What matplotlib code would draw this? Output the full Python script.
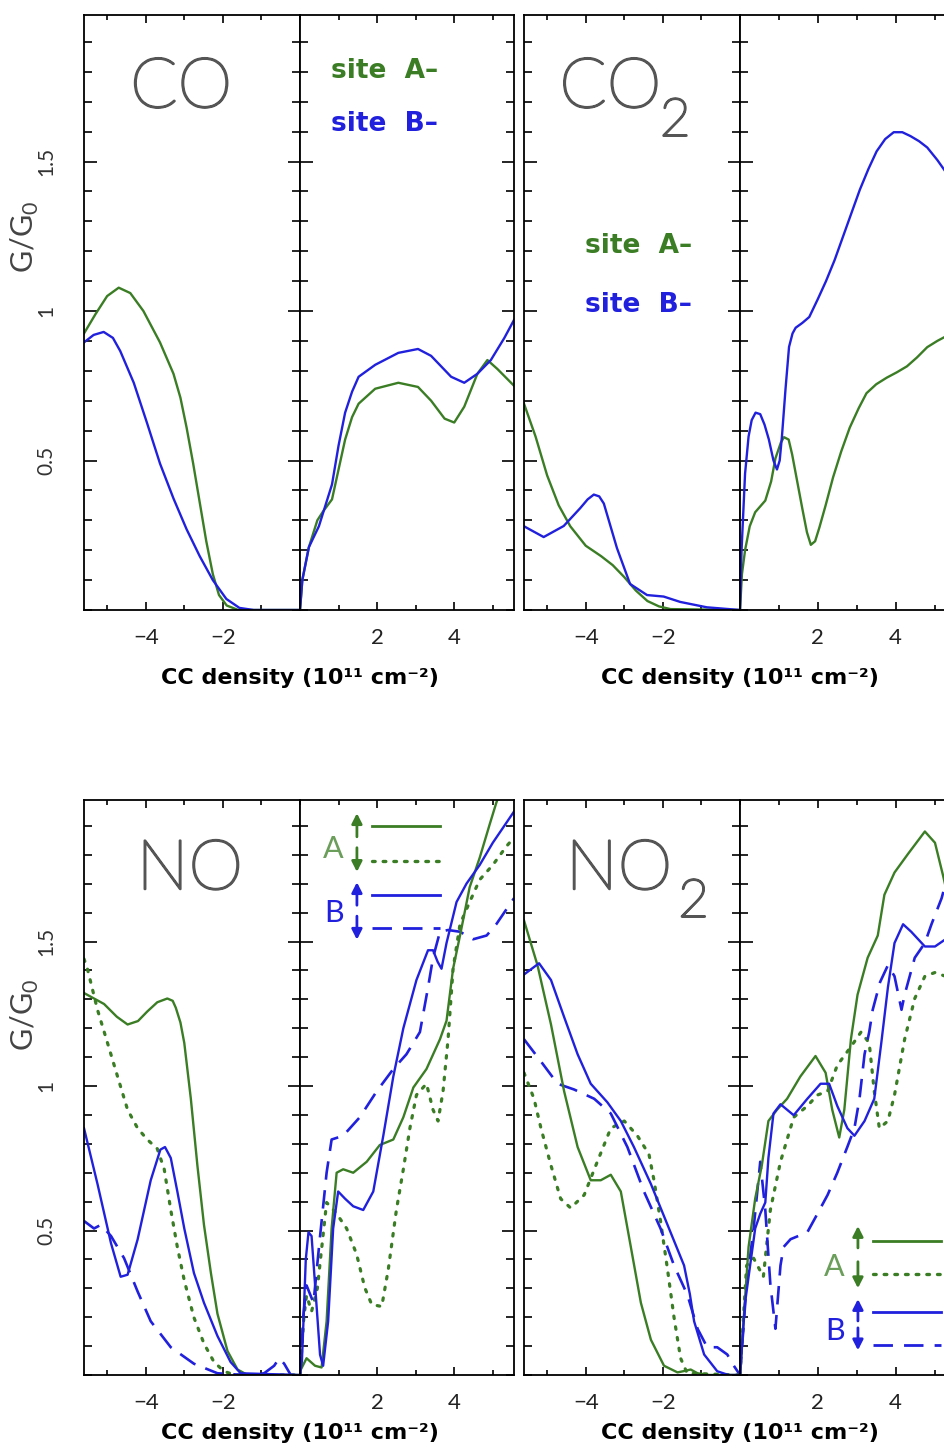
import numpy as np
import matplotlib.pyplot as plt
import matplotlib.patheffects as pe
from matplotlib.ticker import MultipleLocator

GREEN = '#3a7d24'
BLUE = '#2020dd'
GRAY = '#555555'
THIN = ['Lato', 'DejaVu Sans']
plt.rcParams['mathtext.fontset'] = 'custom'
plt.rcParams['mathtext.rm'] = 'Lato'

# ---------------- data ----------------
# CO, negative density side
co_neg_x_A = [-5.6, -5.3, -5.0, -4.7, -4.4, -4.06, -3.63, -3.28, -3.1, -2.94, -2.77, -2.6, -2.43, -2.26, -2.1, -1.9, -1.6, 0]
co_neg_y_A = [0.925, 0.99, 1.05, 1.078, 1.06, 1.0, 0.895, 0.79, 0.71, 0.61, 0.49, 0.36, 0.23, 0.12, 0.05, 0.015, 0.0, 0.0]
co_neg_x_B = [-5.6, -5.35, -5.09, -4.85, -4.66, -4.31, -3.97, -3.63, -3.28, -2.94, -2.6, -2.26, -1.91, -1.57, -1.2, 0]
co_neg_y_B = [0.895, 0.92, 0.93, 0.91, 0.866, 0.76, 0.627, 0.49, 0.373, 0.27, 0.18, 0.10, 0.037, 0.007, 0.0, 0.0]
# CO, positive density side
co_pos_x_A = [0, 0.06, 0.23, 0.45, 0.6, 0.83, 1.0, 1.17, 1.35, 1.52, 1.95, 2.55, 3.06, 3.4, 3.75, 4.0, 4.26, 4.6, 4.86, 5.12, 5.55]
co_pos_y_A = [0, 0.10, 0.21, 0.30, 0.33, 0.37, 0.47, 0.57, 0.645, 0.69, 0.74, 0.76, 0.746, 0.70, 0.64, 0.627, 0.68, 0.79, 0.836, 0.806, 0.75]
co_pos_x_B = [0, 0.06, 0.23, 0.49, 0.83, 1.0, 1.17, 1.35, 1.52, 1.95, 2.55, 3.06, 3.4, 3.92, 4.26, 4.6, 4.95, 5.3, 5.55]
co_pos_y_B = [0, 0.10, 0.21, 0.28, 0.42, 0.55, 0.66, 0.73, 0.78, 0.82, 0.86, 0.873, 0.85, 0.78, 0.76, 0.79, 0.836, 0.91, 0.97]

# CO2
co2_neg_x_A = [-5.6, -5.3, -5.0, -4.7, -4.4, -4.0, -3.6, -3.3, -3.0, -2.7, -2.4, -2.1, -1.8, 0]
co2_neg_y_A = [0.69, 0.58, 0.45, 0.35, 0.28, 0.215, 0.18, 0.15, 0.11, 0.065, 0.03, 0.012, 0.003, 0]
co2_neg_x_B = [-5.6, -5.09, -4.57, -4.14, -3.95, -3.79, -3.65, -3.53, -3.19, -2.85, -2.41, -1.98, -1.55, -0.86, 0]
co2_neg_y_B = [0.28, 0.244, 0.281, 0.341, 0.37, 0.386, 0.38, 0.356, 0.207, 0.087, 0.05, 0.045, 0.027, 0.009, 0]
co2_pos_x_A = [0, 0.05, 0.13, 0.25, 0.39, 0.65, 0.8, 0.91, 1.05, 1.13, 1.25, 1.34, 1.47, 1.6, 1.72, 1.82, 1.93, 2.04,
               2.2, 2.39, 2.6, 2.82, 3.05, 3.25, 3.5, 3.77, 4.03, 4.29, 4.55, 4.81, 5.07, 5.33, 5.55]
co2_pos_y_A = [0, 0.12, 0.2, 0.28, 0.327, 0.366, 0.43, 0.507, 0.56, 0.578, 0.57, 0.52, 0.43, 0.34, 0.26, 0.218, 0.23, 0.276,
               0.35, 0.443, 0.53, 0.61, 0.675, 0.725, 0.755, 0.777, 0.795, 0.815, 0.845, 0.879, 0.90, 0.918, 0.93]
co2_pos_x_B = [0, 0.04, 0.13, 0.22, 0.30, 0.40, 0.52, 0.63, 0.74, 0.86, 0.95, 1.02, 1.08, 1.17, 1.26, 1.35, 1.43, 1.6,
               1.78, 2.0, 2.21, 2.43, 2.65, 2.87, 3.08, 3.3, 3.51, 3.73, 3.95, 4.17, 4.38, 4.6, 4.81, 5.07, 5.33, 5.55]
co2_pos_y_B = [0, 0.2, 0.456, 0.58, 0.635, 0.66, 0.655, 0.62, 0.571, 0.50, 0.47, 0.5, 0.584, 0.74, 0.88, 0.925, 0.944, 0.96,
               0.98, 1.04, 1.10, 1.17, 1.25, 1.33, 1.406, 1.475, 1.534, 1.575, 1.598, 1.598, 1.585, 1.568, 1.547, 1.505, 1.457, 1.40]

# NO  (A up = solid, A down = dotted, B up = solid, B down = dashed)
no_neg_x_Aup = [-5.6, -5.08, -4.75, -4.47, -4.2, -3.96, -3.7, -3.44, -3.3, -3.22, -3.1, -3.0, -2.83, -2.66, -2.49, -2.31, -2.14, -1.88, -1.62, -1.36, 0]
no_neg_y_Aup = [1.322, 1.284, 1.24, 1.213, 1.225, 1.258, 1.29, 1.303, 1.295, 1.271, 1.22, 1.149, 0.956, 0.725, 0.52, 0.353, 0.212, 0.083, 0.019, 0, 0]
no_neg_x_Adn = [-5.6, -5.51, -5.25, -4.99, -4.73, -4.47, -4.21, -3.96, -3.7, -3.52, -3.35, -3.18, -3.0, -2.75, -2.49, -2.23, -1.97, -1.7, 0]
no_neg_y_Adn = [1.44, 1.405, 1.264, 1.149, 1.033, 0.918, 0.854, 0.815, 0.783, 0.712, 0.571, 0.443, 0.327, 0.199, 0.109, 0.045, 0.013, 0.0, 0]
no_neg_x_Bup = [-5.6, -5.25, -4.9, -4.65, -4.47, -4.21, -3.87, -3.62, -3.5, -3.35, -3.18, -3.0, -2.75, -2.49, -2.14, -1.8, -1.54, 0]
no_neg_y_Bup = [0.854, 0.661, 0.456, 0.34, 0.347, 0.469, 0.674, 0.78, 0.789, 0.751, 0.635, 0.507, 0.353, 0.25, 0.135, 0.045, 0.006, 0]
no_neg_x_Bdn = [-5.6, -5.34, -5.16, -4.9, -4.56, -4.21, -3.87, -3.35, -2.75, -2.14, -1.45, -0.93, -0.67, -0.54, -0.41, -0.24, 0]
no_neg_y_Bdn = [0.533, 0.507, 0.52, 0.481, 0.404, 0.289, 0.186, 0.096, 0.039, 0.006, 0, 0.006, 0.032, 0.058, 0.039, 0, 0]
no_pos_x_Aup = [0, 0.17, 0.39, 0.56, 0.69, 0.82, 0.95, 1.12, 1.38, 1.73, 2.07, 2.42, 2.68, 2.94, 3.28, 3.63, 3.8, 3.97, 4.15, 4.4, 4.66, 4.92, 5.09, 5.3]
no_pos_y_Aup = [0.013, 0.058, 0.032, 0.026, 0.186, 0.507, 0.70, 0.712, 0.70, 0.738, 0.796, 0.815, 0.892, 0.995, 1.059, 1.162, 1.226, 1.406, 1.521, 1.688, 1.79, 1.906, 1.98, 2.06]
no_pos_x_Adn = [0, 0.1, 0.17, 0.3, 0.45, 0.69, 0.95, 1.21, 1.47, 1.68, 1.86, 2.12, 2.29, 2.5, 2.68, 2.85, 3.02, 3.28, 3.45,
                3.58, 3.71, 3.84, 3.97, 4.15, 4.4, 4.66, 5.0, 5.35, 5.55]
no_pos_y_Adn = [0, 0.2, 0.276, 0.22, 0.3, 0.597, 0.558, 0.507, 0.417, 0.302, 0.244, 0.237, 0.366, 0.571, 0.712, 0.854, 0.969, 1.008, 0.918,
                0.879, 0.982, 1.162, 1.406, 1.56, 1.637, 1.714, 1.765, 1.829, 1.86]
no_pos_x_Bup = [0, 0.05, 0.09, 0.15, 0.22, 0.3, 0.39, 0.52, 0.6, 0.73, 0.86, 0.99, 1.17, 1.38, 1.64, 1.9, 2.16, 2.42, 2.68, 3.02,
                3.32, 3.45, 3.57, 3.67, 3.8, 4.06, 4.32, 4.66, 5.0, 5.55]
no_pos_y_Bup = [0, 0.05, 0.186, 0.4, 0.494, 0.481, 0.314, 0.07, 0.032, 0.186, 0.507, 0.635, 0.61, 0.584, 0.571, 0.635, 0.828, 1.033, 1.2, 1.367,
                1.47, 1.47, 1.43, 1.406, 1.495, 1.637, 1.701, 1.765, 1.842, 1.95]
no_pos_x_Bdn = [0, 0.09, 0.17, 0.35, 0.52, 0.69, 0.82, 1.12, 1.55, 1.99, 2.42, 2.76, 3.11, 3.32, 3.45, 3.63, 3.84, 4.15, 4.49, 4.84, 5.09, 5.35, 5.55]
no_pos_y_Bdn = [0, 0.21, 0.31, 0.25, 0.48, 0.70, 0.815, 0.828, 0.892, 0.982, 1.059, 1.11, 1.187, 1.341, 1.444, 1.534, 1.54, 1.534, 1.508, 1.521, 1.56, 1.611, 1.65]

# NO2
no2_neg_x_Aup = [-5.6, -5.25, -4.9, -4.56, -4.21, -3.87, -3.61, -3.35, -3.09, -2.83, -2.57, -2.31, -1.97, -1.62, -1.4, -1.28, -1.1, -0.8, 0]
no2_neg_y_Aup = [1.573, 1.418, 1.213, 0.982, 0.789, 0.674, 0.674, 0.693, 0.635, 0.443, 0.25, 0.122, 0.032, 0.009, 0.015, 0.019, 0.006, 0, 0]
no2_neg_x_Adn = [-5.6, -5.34, -5.16, -4.9, -4.65, -4.39, -4.04, -3.7, -3.35, -3.0, -2.66, -2.36, -2.23, -2.06, -1.88, -1.71, -1.54, -1.37, 0]
no2_neg_y_Adn = [1.046, 0.956, 0.854, 0.725, 0.61, 0.578, 0.623, 0.738, 0.854, 0.879, 0.828, 0.764, 0.674, 0.533, 0.366, 0.199, 0.058, 0.006, 0]
no2_neg_x_Bup = [-5.6, -5.21, -4.9, -4.56, -4.21, -3.87, -3.44, -3.09, -2.75, -2.31, -1.88, -1.45, -1.3, -1.19, -0.93, -0.59, -0.3, 0]
no2_neg_y_Bup = [1.386, 1.425, 1.367, 1.239, 1.11, 1.008, 0.944, 0.879, 0.789, 0.661, 0.52, 0.379, 0.28, 0.186, 0.071, 0.013, 0, 0]
no2_neg_x_Bdn = [-5.6, -5.16, -4.73, -4.3, -3.78, -3.35, -2.92, -2.49, -2.06, -1.71, -1.36, -1.1, -0.85, -0.59, -0.33, -0.16, 0]
no2_neg_y_Bdn = [1.162, 1.085, 1.008, 0.988, 0.956, 0.905, 0.789, 0.635, 0.507, 0.379, 0.276, 0.16, 0.096, 0.096, 0.071, 0.032, 0]
no2_pos_x_Aup = [0, 0.09, 0.22, 0.39, 0.56, 0.73, 0.95, 1.21, 1.55, 1.94, 2.2, 2.37, 2.55, 2.68, 2.85, 3.02, 3.28, 3.54, 3.71,
                 3.97, 4.32, 4.75, 5.01, 5.22, 5.44, 5.55]
no2_pos_y_Aup = [0, 0.186, 0.443, 0.61, 0.725, 0.879, 0.918, 0.956, 1.033, 1.104, 1.046, 0.918, 0.822, 0.918, 1.162, 1.316, 1.444, 1.521, 1.662,
                 1.739, 1.804, 1.881, 1.842, 1.727, 1.598, 1.55]
no2_pos_x_Adn = [0, 0.17, 0.35, 0.6, 0.78, 1.04, 1.38, 1.73, 1.99, 2.25, 2.5, 2.85, 3.11, 3.32, 3.45, 3.58, 3.8, 3.97, 4.23, 4.49, 4.75, 5.01, 5.28, 5.55]
no2_pos_y_Adn = [0, 0.379, 0.404, 0.34, 0.571, 0.738, 0.892, 0.931, 0.969, 0.982, 1.072, 1.136, 1.187, 1.149, 0.982, 0.854, 0.879, 0.969, 1.162, 1.303, 1.38, 1.393, 1.38, 1.37]
no2_pos_x_Bup = [0, 0.13, 0.26, 0.39, 0.52, 0.65, 0.73, 0.86, 1.04, 1.38, 1.73, 2.07, 2.29, 2.5, 2.76, 2.94, 3.2, 3.45, 3.63, 3.8,
                 3.97, 4.19, 4.4, 4.75, 5.01, 5.28, 5.55]
no2_pos_y_Bup = [0, 0.25, 0.379, 0.507, 0.558, 0.597, 0.751, 0.905, 0.937, 0.899, 0.956, 1.008, 1.008, 0.931, 0.854, 0.828, 0.879, 0.956, 1.149, 1.341,
                 1.495, 1.56, 1.534, 1.483, 1.483, 1.508, 1.53]
no2_pos_x_Bdn = [0, 0.17, 0.35, 0.52, 0.65, 0.78, 0.91, 1.04, 1.12, 1.3, 1.73, 1.99, 2.25, 2.5, 2.76, 2.94, 3.07, 3.2, 3.32, 3.41,
                 3.6, 3.8, 3.97, 4.15, 4.23, 4.49, 4.75, 4.92, 5.18, 5.28, 5.55]
no2_pos_y_Bdn = [0, 0.314, 0.507, 0.738, 0.571, 0.314, 0.16, 0.379, 0.443, 0.47, 0.494, 0.558, 0.623, 0.70, 0.79, 0.854, 0.956, 1.11, 1.187, 1.264,
                 1.36, 1.418, 1.38, 1.264, 1.316, 1.444, 1.495, 1.56, 1.65, 1.70, 1.78]

x_neg_ticks = [-4, -2]
x_pos_ticks = [2, 4]
y_ticks = [0.5, 1, 1.5]
y_tick_labels = ['0.5', '1', '1.5']
x_label = 'CC density (10¹¹ cm⁻²)'
y_label = r'G/G$_\mathregular{0}$'

# ---------------- figure ----------------
W, H = 944, 1448
fig = plt.figure(figsize=(W / 100, H / 100), dpi=100)


def add_ax(left, top, width, height):
    return fig.add_axes([left / W, 1 - (top + height) / H, width / W, height / H])


def style(ax, neg, first, label_y):
    ax.set_ylim(0, 1.99)
    if neg:
        ax.set_xlim(-5.6, 0)
        ax.set_xticks(x_neg_ticks)
    else:
        ax.set_xlim(0, 5.55)
        ax.set_xticks(x_pos_ticks)
    ax.xaxis.set_minor_locator(MultipleLocator(1))
    ax.set_yticks(y_ticks)
    ax.yaxis.set_minor_locator(MultipleLocator(0.1))
    ax.tick_params(which='both', direction='in', top=True, right=True, width=1.2, colors='black')
    ax.tick_params(axis='y', which='major', length=9)
    ax.tick_params(axis='y', which='minor', length=5.5)
    ax.tick_params(axis='x', which='major', length=6, pad=13)
    ax.tick_params(axis='x', which='minor', length=3.5)
    for sp in ax.spines.values():
        sp.set_linewidth(1.3)
    for lab in ax.get_xticklabels():
        lab.set_family(THIN)
        lab.set_fontsize(16)
        lab.set_color('#222222')
    if first:
        ax.set_yticklabels(y_tick_labels, rotation=90, va='center', family=THIN, fontsize=15, color='#333333')
        ax.tick_params(axis='y', which='major', pad=20)
        ax.set_ylabel(y_label, family=THIN, fontsize=22, color='#444444')
        ax.yaxis.set_label_coords(-0.2, 0.627)
    else:
        ax.set_yticklabels([])
    if neg:
        ax.set_xlabel(x_label, fontweight='bold', fontsize=16, family='DejaVu Sans')
        ax.xaxis.set_label_coords(1.0, label_y)


def gas(ax, main, sub, x_main, x_sub):
    fx = [pe.withStroke(linewidth=1.6, foreground=GRAY)]
    ax.text(x_main, 0.845, main, transform=ax.transAxes, ha='center', va='baseline',
            fontsize=50, color=GRAY, family=THIN, fontweight='light', path_effects=fx)
    if sub:
        ax.text(x_sub, 0.797, sub, transform=ax.transAxes, ha='center', va='baseline',
                fontsize=38, color=GRAY, family=THIN, fontweight='light', path_effects=fx)


def site_legend(ax, x, ya, yb):
    ax.text(x, ya, 'site  A–', transform=ax.transAxes, color=GREEN, fontsize=19,
            fontweight='bold', family='DejaVu Sans')
    ax.text(x, yb, 'site  B–', transform=ax.transAxes, color=BLUE, fontsize=19,
            fontweight='bold', family='DejaVu Sans')


def arrow(ax, x, tail, head, color):
    ax.annotate('', xy=(x, head), xytext=(x, tail), xycoords='axes fraction',
                arrowprops=dict(arrowstyle='-|>,head_width=0.28,head_length=0.55', mutation_scale=11,
                                lw=2, color=color, shrinkA=0, shrinkB=0))


def spin_legend(ax, xt, xa, x0, x1, ys, arrows, ya, yb):
    ax.text(xt, ya, 'A', transform=ax.transAxes, ha='center', va='baseline', fontsize=22,
            color=GREEN, family=THIN, alpha=0.75)
    ax.text(xt + 0.005, yb, 'B', transform=ax.transAxes, ha='center', va='baseline', fontsize=22,
            color=BLUE, family=THIN)
    ax.plot([x0, x1], [ys[0], ys[0]], transform=ax.transAxes, color=GREEN, lw=2)
    ax.plot([x0, x1], [ys[1], ys[1]], transform=ax.transAxes, color=GREEN, lw=2.4,
            ls=(0, (0.8, 2.4)), dash_capstyle='round')
    ax.plot([x0, x1], [ys[2], ys[2]], transform=ax.transAxes, color=BLUE, lw=2)
    ax.plot([x0, x1], [ys[3], ys[3]], transform=ax.transAxes, color=BLUE, lw=2, ls=(0, (7, 4)))
    colors = [GREEN, GREEN, BLUE, BLUE]
    for (t, h), c in zip(arrows, colors):
        arrow(ax, xa, t, h, c)


SOLID = dict(lw=1.7)
DOT = dict(lw=2.3, ls=(0, (0.8, 2.6)), dash_capstyle='round')
DASH = dict(lw=1.9, ls=(0, (7, 4)))

# ---- CO ----
a1 = add_ax(84, 15, 216, 595)
a2 = add_ax(300, 15, 214, 595)
a1.plot(co_neg_x_A, co_neg_y_A, color=GREEN, **SOLID)
a1.plot(co_neg_x_B, co_neg_y_B, color=BLUE, **SOLID)
a2.plot(co_pos_x_A, co_pos_y_A, color=GREEN, **SOLID)
a2.plot(co_pos_x_B, co_pos_y_B, color=BLUE, **SOLID)
style(a1, True, True, -0.097)
style(a2, False, False, 0)
gas(a1, 'CO', None, 0.45, 0)
site_legend(a2, 0.145, 0.894, 0.805)

# ---- CO2 ----
b1 = add_ax(524, 15, 216, 595)
b2 = add_ax(740, 15, 216, 595)
b1.plot(co2_neg_x_A, co2_neg_y_A, color=GREEN, **SOLID)
b1.plot(co2_neg_x_B, co2_neg_y_B, color=BLUE, **SOLID)
b2.plot(co2_pos_x_A, co2_pos_y_A, color=GREEN, **SOLID)
b2.plot(co2_pos_x_B, co2_pos_y_B, color=BLUE, **SOLID)
style(b1, True, False, -0.097)
style(b2, False, False, 0)
gas(b1, 'CO', '2', 0.40, 0.70)
site_legend(b1, 0.282, 0.6, 0.5)

# ---- NO ----
c1 = add_ax(84, 800, 216, 575)
c2 = add_ax(300, 800, 214, 575)
c1.plot(no_neg_x_Adn, no_neg_y_Adn, color=GREEN, **DOT)
c1.plot(no_neg_x_Bdn, no_neg_y_Bdn, color=BLUE, **DASH)
c1.plot(no_neg_x_Aup, no_neg_y_Aup, color=GREEN, **SOLID)
c1.plot(no_neg_x_Bup, no_neg_y_Bup, color=BLUE, **SOLID)
c2.plot(no_pos_x_Adn, no_pos_y_Adn, color=GREEN, **DOT)
c2.plot(no_pos_x_Bdn, no_pos_y_Bdn, color=BLUE, **DASH)
c2.plot(no_pos_x_Aup, no_pos_y_Aup, color=GREEN, **SOLID)
c2.plot(no_pos_x_Bup, no_pos_y_Bup, color=BLUE, **SOLID)
style(c1, True, True, -0.084)
style(c2, False, False, 0)
gas(c1, 'NO', None, 0.49, 0)
spin_legend(c2, 0.154, 0.266, 0.336, 0.654, [0.955, 0.894, 0.835, 0.777],
            [(0.936, 0.977), (0.917, 0.875), (0.817, 0.857), (0.798, 0.757)], 0.899, 0.788)

# ---- NO2 ----
d1 = add_ax(524, 800, 216, 575)
d2 = add_ax(740, 800, 216, 575)
d1.plot(no2_neg_x_Adn, no2_neg_y_Adn, color=GREEN, **DOT)
d1.plot(no2_neg_x_Bdn, no2_neg_y_Bdn, color=BLUE, **DASH)
d1.plot(no2_neg_x_Aup, no2_neg_y_Aup, color=GREEN, **SOLID)
d1.plot(no2_neg_x_Bup, no2_neg_y_Bup, color=BLUE, **SOLID)
d2.plot(no2_pos_x_Adn, no2_pos_y_Adn, color=GREEN, **DOT)
d2.plot(no2_pos_x_Bdn, no2_pos_y_Bdn, color=BLUE, **DASH)
d2.plot(no2_pos_x_Aup, no2_pos_y_Aup, color=GREEN, **SOLID)
d2.plot(no2_pos_x_Bup, no2_pos_y_Bup, color=BLUE, **SOLID)
style(d1, True, False, -0.084)
style(d2, False, False, 0)
gas(d1, 'NO', '2', 0.44, 0.785)
spin_legend(d2, 0.435, 0.546, 0.616, 0.93, [0.233, 0.176, 0.11, 0.052],
            [(0.221, 0.259), (0.197, 0.151), (0.094, 0.132), (0.082, 0.043)], 0.172, 0.061)

fig.savefig('out.png', dpi=100)
